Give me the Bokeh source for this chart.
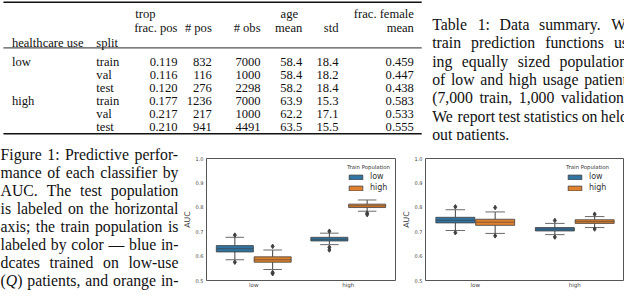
from bokeh.plotting import figure
from bokeh.layouts import column, row
from bokeh.models import (ColumnDataSource, Range1d, FactorRange, Legend, LegendItem,
                          FixedTicker, PrintfTickFormatter)
from bokeh.transform import dodge
from bokeh.core.properties import value
from bokeh.embed import file_html
from bokeh.resources import INLINE

# ---------------- Table 1 data ----------------
index_names = ["healthcare use", "split"]
group_headers = ["trop", "age", "frac. female"]
column_headers = ["frac. pos", "# pos", "# obs", "mean", "std", "mean"]
healthcare_use = ["low", "", "", "high", "", ""]
split = ["train", "val", "test", "train", "val", "test"]
frac_pos = [0.119, 0.116, 0.120, 0.177, 0.217, 0.210]
n_pos = [832, 116, 276, 1236, 217, 941]
n_obs = [7000, 1000, 2298, 7000, 1000, 4491]
age_mean = [58.4, 58.4, 58.2, 63.9, 62.2, 63.5]
age_std = [18.4, 18.2, 18.4, 15.3, 17.1, 15.5]
frac_female_mean = [0.459, 0.447, 0.438, 0.583, 0.533, 0.555]

table_caption = [
    "Table 1: Data summary. We",
    "train prediction functions us-",
    "ing equally sized populations",
    "of low and high usage patients",
    "(7,000 train, 1,000 validation).",
    "We report test statistics on held-",
    "out patients.",
]
figure_caption = [
    "Figure 1: Predictive perfor-",
    "mance of each classifier by",
    "AUC. The test population",
    "is labeled on the horizontal",
    "axis; the train population is",
    "labeled by color \u2014 blue in-",
    "dcates trained on low-use",
    "(Q) patients, and orange in-",
]

# ---------------- Figure 1 data (AUC box plots) ----------------
test_populations = ["low", "high"]
train_populations = ["low", "high"]
legend_title = "Train Population"
y_axis_label = "AUC"
y_ticks = [0.5, 0.6, 0.7, 0.8, 0.9, 1.0]

# left panel
left_trainlow_whislo = [0.585, 0.647]
left_trainlow_q1 = [0.617, 0.662]
left_trainlow_med = [0.630, 0.669]
left_trainlow_q3 = [0.643, 0.677]
left_trainlow_whishi = [0.677, 0.694]
left_trainlow_flier_test = ["low", "low", "high", "high", "high"]
left_trainlow_flier_auc = [0.686, 0.575, 0.702, 0.636, 0.625]

left_trainhigh_whislo = [0.545, 0.784]
left_trainhigh_q1 = [0.575, 0.799]
left_trainhigh_med = [0.585, 0.806]
left_trainhigh_q3 = [0.597, 0.813]
left_trainhigh_whishi = [0.625, 0.830]
left_trainhigh_flier_test = ["low", "low", "low", "high", "high"]
left_trainhigh_flier_auc = [0.640, 0.533, 0.528, 0.776, 0.770]

# right panel
right_trainlow_whislo = [0.705, 0.688]
right_trainlow_q1 = [0.736, 0.703]
right_trainlow_med = [0.747, 0.711]
right_trainlow_q3 = [0.759, 0.717]
right_trainlow_whishi = [0.790, 0.734]
right_trainlow_flier_test = ["low", "low", "high", "high"]
right_trainlow_flier_auc = [0.802, 0.696, 0.746, 0.678]

right_trainhigh_whislo = [0.693, 0.717]
right_trainhigh_q1 = [0.726, 0.734]
right_trainhigh_med = [0.739, 0.741]
right_trainhigh_q3 = [0.751, 0.749]
right_trainhigh_whishi = [0.781, 0.762]
right_trainhigh_flier_test = ["low", "low", "high", "high"]
right_trainhigh_flier_auc = [0.799, 0.683, 0.772, 0.711]

# ---------------- layout helpers ----------------
W, H = 624, 290
SX = W / 640.0
SY = H / 306.0
TOP_H = 140
BOT_H = H - TOP_H
PANEL_TOP = 18
PANEL_BOTTOM = 7


def X(x):
    return x * SX


def Yt(y):
    return y * SY


def Yb(y):
    return y * SY - TOP_H


SERIF = "Liberation Serif"
SANS = "DejaVu Sans"
INK = "#111111"

TW = {" ": 250, "!": 333, "(": 333, ")": 333, ",": 250, "-": 333, ".": 250,
      ":": 278, ";": 278, "\u2014": 1000, "#": 500}
for ch in "0123456789":
    TW[ch] = 500
TW.update(dict(zip("ABCDEFGHIJKLMNOPQRSTUVWXYZ",
                   [722, 667, 667, 722, 611, 556, 722, 722, 333, 389, 722, 611, 889,
                    722, 722, 556, 722, 667, 556, 611, 722, 722, 944, 722, 722, 611])))
TW.update(dict(zip("abcdefghijklmnopqrstuvwxyz",
                   [444, 500, 444, 500, 444, 333, 500, 500, 278, 278, 500, 278, 778,
                    500, 500, 500, 500, 333, 389, 278, 500, 500, 722, 500, 500, 444])))


def tw(s, size):
    return sum(TW.get(c, 500) for c in s) * size / 1000.0


def caption(fig, lines, x0, x1, yc0, dy, size_ref, ymap):
    xs, ys, ts = [], [], []
    ixs, iys, its = [], [], []
    for i, line in enumerate(lines):
        words = line.split(" ")
        widths = [tw(w, size_ref) for w in words]
        last = i == len(lines) - 1 and line.endswith(".")
        if len(words) > 1 and not last:
            gap = (x1 - x0 - sum(widths)) / (len(words) - 1)
        else:
            gap = 0.25 * size_ref
        base = ymap(yc0 + i * dy + 0.3 * size_ref)
        x = x0
        for w, wd in zip(words, widths):
            if w == "(Q)":
                xs += [X(x), X(x + tw("(Q", size_ref))]
                ts += ["(", ")"]
                ys += [base, base]
                ixs.append(X(x + tw("(", size_ref)))
                iys.append(base)
                its.append("Q")
            else:
                xs.append(X(x))
                ys.append(base)
                ts.append(w)
            x += wd + gap
    fs = "%.2fpx" % (size_ref * SX)
    fig.text(x=xs, y=ys, text=ts, text_font=value(SERIF), text_font_size=fs,
             text_baseline="alphabetic", text_align="left", text_color=INK,
             level="overlay")
    if its:
        fig.text(x=ixs, y=iys, text=its, text_font=value(SERIF), text_font_size=fs,
                 text_font_style="italic", text_baseline="alphabetic",
                 text_align="left", text_color=INK, level="overlay")


def blank(width, height, top_border=0, bottom_border=0):
    # data coordinates == pixel coordinates of the whole figure (y downwards)
    f = figure(width=width, height=height, x_range=Range1d(0, width),
               y_range=Range1d(height - bottom_border, top_border),
               x_axis_location=None, y_axis_location=None,
               toolbar_location=None, output_backend="svg",
               min_border_left=0, min_border_right=0,
               min_border_top=top_border, min_border_bottom=bottom_border)
    f.grid.visible = False
    f.outline_line_color = None
    return f


# ---------------- top: table + table caption ----------------
top = blank(W, TOP_H)

TF = 12.9  # reference table font size
tfs = "%.2fpx" % (TF * SX)
col_right = [181.5, 216.7, 266.7, 309.5, 346.7, 424.0]
row_y = [60.7 + 13.72 * i for i in range(6)]
base_off = 0.3 * TF


def ttext(xs, ys, texts, align):
    top.text(x=[X(v) for v in xs], y=[Yt(v + base_off) for v in ys], text=texts,
             text_font=value(SERIF), text_font_size=tfs, text_align=align,
             text_baseline="alphabetic", text_color=INK, level="overlay")


# rules
top.segment(x0=[X(3)], y0=[Yt(1.8)], x1=[X(432)], y1=[Yt(1.8)], line_color="#111", line_width=1.4)
top.segment(x0=[X(3)], y0=[Yt(50)], x1=[X(432)], y1=[Yt(50)], line_color="#555", line_width=1.1)
top.segment(x0=[X(3)], y0=[Yt(140.6)], x1=[X(432)], y1=[Yt(140.6)], line_color="#111", line_width=1.4)

# headers
ttext([138.3, 287.3], [10, 10], group_headers[:2], "left")
ttext([424.0], [10], group_headers[2:], "right")
ttext(col_right, [25] * 6, column_headers, "right")
ttext([11.7, 98.3], [41, 41], index_names, "left")

# body
ttext([11.7] * 6, row_y, healthcare_use, "left")
ttext([98.3] * 6, row_y, split, "left")
columns_fmt = [
    ["%.3f" % v for v in frac_pos],
    ["%d" % v for v in n_pos],
    ["%d" % v for v in n_obs],
    ["%.1f" % v for v in age_mean],
    ["%.1f" % v for v in age_std],
    ["%.3f" % v for v in frac_female_mean],
]
for cx, vals in zip(col_right, columns_fmt):
    ttext([cx] * 6, row_y, vals, "right")

caption(top, table_caption, 442.7, 649.0, 20.0, 19.5, 16.2, Yt)

# ---------------- bottom: figure caption + two panels ----------------
CAP_W = 179
cap = blank(CAP_W, BOT_H, PANEL_TOP, PANEL_BOTTOM)
caption(cap, figure_caption, 0.0, 182.5, 158.0, 19.35, 16.2, Yb)

BLUE = "#3274a1"
ORANGE = "#e1812c"
EDGE = "#3f3f3f"
CAPC = "#6a6a6a"


def panel(width, mbl, mbr, stats, fliers):
    p = figure(width=width, height=BOT_H, x_range=FactorRange(factors=test_populations),
               y_range=Range1d(0.5, 1.0), toolbar_location=None, output_backend="svg",
               min_border_left=mbl, min_border_right=mbr, min_border_top=PANEL_TOP,
               min_border_bottom=PANEL_BOTTOM)
    rends = []
    for hue, color, off in zip(train_populations, [BLUE, ORANGE], [-0.2, 0.2]):
        lo, q1, med, q3, hi = stats[hue]
        src = ColumnDataSource(dict(test=test_populations, lo=lo, q1=q1, med=med, q3=q3, hi=hi))
        xc = dodge("test", off, range=p.x_range)
        p.segment(x0=xc, y0="q3", x1=xc, y1="hi", source=src, line_color=EDGE, line_width=1)
        p.segment(x0=xc, y0="q1", x1=xc, y1="lo", source=src, line_color=EDGE, line_width=1)
        for end in ("hi", "lo"):
            p.segment(x0=dodge("test", off - 0.098, range=p.x_range), y0=end,
                      x1=dodge("test", off + 0.098, range=p.x_range), y1=end,
                      source=src, line_color=CAPC, line_width=1)
        r = p.vbar(x=xc, width=0.392, bottom="q1", top="q3", source=src,
                   fill_color=color, line_color=EDGE, line_width=0.8)
        p.segment(x0=dodge("test", off - 0.196, range=p.x_range), y0="med",
                  x1=dodge("test", off + 0.196, range=p.x_range), y1="med",
                  source=src, line_color=EDGE, line_width=0.8, line_alpha=0.8)
        ft, fa = fliers[hue]
        fsrc = ColumnDataSource(dict(test=ft, auc=fa))
        p.scatter(x=xc, y="auc", source=fsrc, marker="diamond", size=4.5,
                  fill_color=EDGE, line_color=EDGE)
        rends.append(r)

    p.grid.visible = False
    p.outline_line_color = "#555555"
    p.outline_line_width = 1
    p.axis.axis_line_color = None
    p.axis.major_tick_out = 0
    p.axis.major_tick_in = 0
    p.axis.minor_tick_out = 0
    p.axis.minor_tick_in = 0
    p.axis.major_label_text_font = SANS
    p.axis.major_label_text_color = "#444444"
    p.yaxis.ticker = FixedTicker(ticks=y_ticks)
    p.yaxis.formatter = PrintfTickFormatter(format="%.1f")
    p.yaxis.major_label_text_font_size = "5px"
    p.yaxis.major_label_standoff = 3
    p.xaxis.major_label_text_font_size = "5.6px"
    p.xaxis.major_label_standoff = 1
    p.yaxis.axis_label = y_axis_label
    p.yaxis.axis_label_text_font = SANS
    p.yaxis.axis_label_text_font_size = "7.8px"
    p.yaxis.axis_label_text_font_style = "normal"
    p.yaxis.axis_label_text_color = "#333333"
    p.yaxis.axis_label_standoff = 1

    legend = Legend(items=[LegendItem(label=h, renderers=[r]) for h, r in zip(train_populations, rends)],
                    title=legend_title, location=(141, 88),
                    title_text_font=SANS, title_text_font_size="5.4px",
                    title_text_font_style="normal", title_text_color="#333333",
                    title_standoff=2,
                    label_text_font=SANS, label_text_font_size="8px",
                    label_text_color="#333333",
                    glyph_width=17, glyph_height=6, label_height=9, label_standoff=6,
                    padding=2, spacing=2, margin=0, border_line_color=None,
                    background_fill_alpha=0)
    p.add_layout(legend)
    return p


left_stats = {
    "low": (left_trainlow_whislo, left_trainlow_q1, left_trainlow_med, left_trainlow_q3, left_trainlow_whishi),
    "high": (left_trainhigh_whislo, left_trainhigh_q1, left_trainhigh_med, left_trainhigh_q3, left_trainhigh_whishi),
}
left_fliers = {
    "low": (left_trainlow_flier_test, left_trainlow_flier_auc),
    "high": (left_trainhigh_flier_test, left_trainhigh_flier_auc),
}
right_stats = {
    "low": (right_trainlow_whislo, right_trainlow_q1, right_trainlow_med, right_trainlow_q3, right_trainlow_whishi),
    "high": (right_trainhigh_whislo, right_trainhigh_q1, right_trainhigh_med, right_trainhigh_q3, right_trainhigh_whishi),
}
right_fliers = {
    "low": (right_trainlow_flier_test, right_trainlow_flier_auc),
    "high": (right_trainhigh_flier_test, right_trainhigh_flier_auc),
}

P1_W = 219
P2_W = W - CAP_W - P1_W
p1 = panel(P1_W, 22, 3, left_stats, left_fliers)
p2 = panel(P2_W, 27, 0, right_stats, right_fliers)

layout = column(top, row(cap, p1, p2))
open("out.html", "w").write(file_html(layout, INLINE))
